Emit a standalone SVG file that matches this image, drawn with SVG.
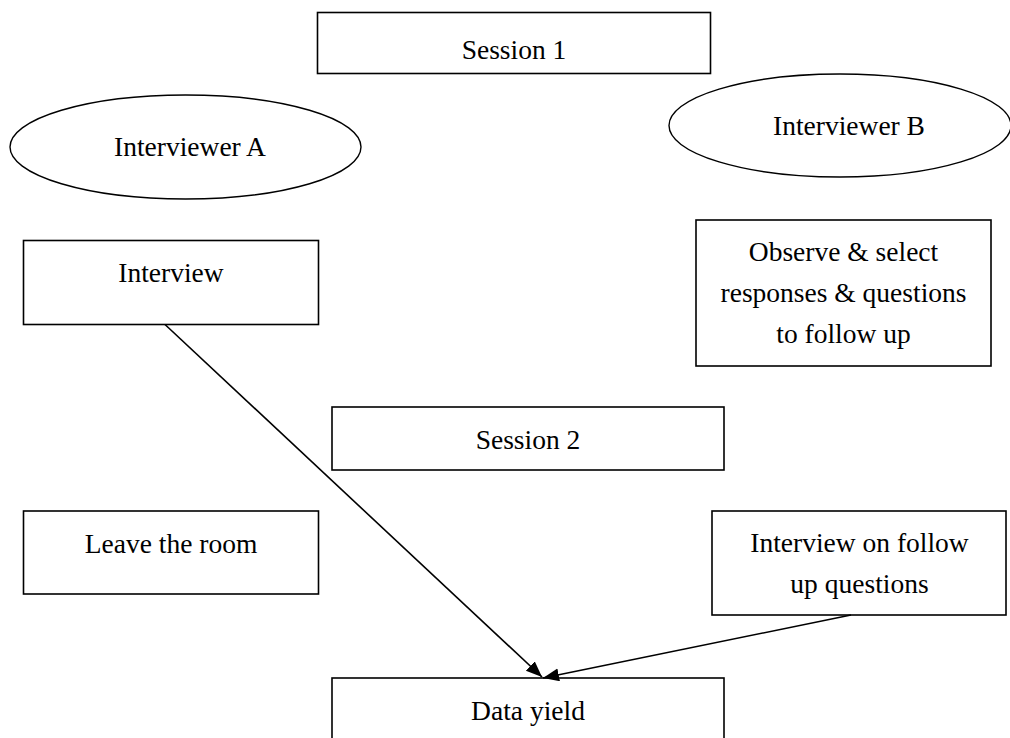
<svg xmlns="http://www.w3.org/2000/svg" width="1010" height="738" viewBox="0 0 1010 738">
<style>
.box{fill:#fff;stroke:#000;stroke-width:1.6}
.ell{fill:#fff;stroke:#000;stroke-width:1.4}
.t{font-family:"Liberation Serif","Times New Roman",serif;font-size:27.5px;fill:#000;text-anchor:middle}
.conn{fill:none;stroke:#000;stroke-width:1.6}
</style>
<defs>
<marker id="arr" markerUnits="userSpaceOnUse" markerWidth="18" markerHeight="14" refX="16" refY="6.5" orient="auto">
<path d="M0,0 L16,6.5 L0,13 z" fill="#000"/>
</marker>
</defs>
<rect width="1010" height="738" fill="#fff"/>
<g id="session1"><rect class="box" x="317.5" y="12.5" width="393" height="61"/><text class="t" x="514" y="59">Session 1</text></g>
<g id="interviewerA"><ellipse class="ell" cx="185.5" cy="147" rx="175.5" ry="52"/><text class="t" x="190" y="156">Interviewer A</text></g>
<g id="interviewerB"><ellipse class="ell" cx="840" cy="125.5" rx="171" ry="51.5"/><text class="t" x="849" y="135">Interviewer B</text></g>
<g id="interview"><rect class="box" x="23.5" y="240.5" width="295" height="84"/><text class="t" x="171" y="282">Interview</text></g>
<g id="observe"><rect class="box" x="696" y="220" width="295" height="146"/><text class="t" x="843.5" y="261">Observe &amp; select</text><text class="t" x="843.5" y="302">responses &amp; questions</text><text class="t" x="843.5" y="343">to follow up</text></g>
<g id="session2"><rect class="box" x="332" y="407" width="392" height="63"/><text class="t" x="528" y="449">Session 2</text></g>
<g id="leave"><rect class="box" x="23.5" y="511" width="295" height="83"/><text class="t" x="171" y="553">Leave the room</text></g>
<g id="followup"><rect class="box" x="712" y="511" width="294" height="104"/><text class="t" x="859.5" y="552">Interview on follow</text><text class="t" x="859.5" y="593">up questions</text></g>
<g id="datayield"><rect class="box" x="332" y="678" width="392" height="80"/><text class="t" x="528" y="720">Data yield</text></g>
<g id="connectors">
<line class="conn" x1="165" y1="324.5" x2="542" y2="677" marker-end="url(#arr)"/>
<line class="conn" x1="851" y1="615" x2="543" y2="678" stroke-width="2" marker-end="url(#arr)"/>
</g>
</svg>
